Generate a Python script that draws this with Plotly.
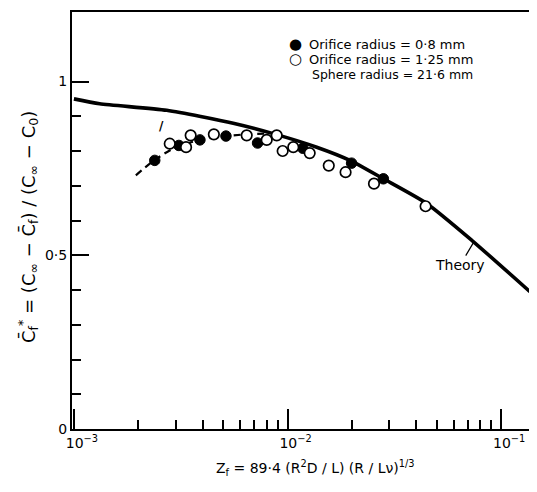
import plotly.graph_objects as go

# Theory curve
theory_x = [0.001, 0.00132, 0.00272, 0.00557, 0.00857, 0.0137, 0.0196, 0.0281, 0.0448, 0.0729, 0.1365]
theory_y = [0.950, 0.936, 0.917, 0.880, 0.850, 0.811, 0.773, 0.720, 0.649, 0.543, 0.395]

# Orifice radius 0.8 mm (filled)
filled_x = [0.00239, 0.00310, 0.00389, 0.00515, 0.00724, 0.0118, 0.01995, 0.0281]
filled_y = [0.773, 0.816, 0.832, 0.843, 0.823, 0.808, 0.765, 0.720]

# Orifice radius 1.25 mm (open)
open_x = [0.00281, 0.00335, 0.00352, 0.00452, 0.00644, 0.00799, 0.0089, 0.00949,
          0.01064, 0.0127, 0.0156, 0.0187, 0.0254, 0.0443]
open_y = [0.821, 0.811, 0.845, 0.848, 0.845, 0.832, 0.845, 0.800,
          0.811, 0.794, 0.758, 0.739, 0.706, 0.641]

# Dashed trend through the early data
dash_x = [0.00195, 0.0024, 0.0030, 0.0038, 0.0050, 0.0065, 0.0080]
dash_y = [0.730, 0.775, 0.810, 0.830, 0.842, 0.848, 0.850]

x_major = [0.001, 0.01, 0.1]
x_major_text = ["10<sup>−3</sup>", "10<sup>−2</sup>", "10<sup>−1</sup>"]
x_minor = [m * d for d in [0.001, 0.01, 0.1] for m in range(2, 10)]
y_major = [0, 0.5, 1]
y_major_text = ["0", "0·5", "1"]
y_minor = [0.1, 0.2, 0.3, 0.4, 0.6, 0.7, 0.8, 0.9]

FONT = "DejaVu Sans"

fig = go.Figure()
fig.add_trace(go.Scatter(x=theory_x, y=theory_y, mode="lines",
                         line=dict(color="black", width=3.6, shape="spline", smoothing=0.6),
                         showlegend=False, hoverinfo="skip"))
fig.add_trace(go.Scatter(x=dash_x, y=dash_y, mode="lines",
                         line=dict(color="black", width=2.2, dash="7px,5px", shape="spline"),
                         showlegend=False, hoverinfo="skip"))
fig.add_trace(go.Scatter(x=filled_x, y=filled_y, mode="markers",
                         marker=dict(symbol="circle", size=10.5, color="black",
                                     line=dict(color="black", width=1)),
                         showlegend=False))
fig.add_trace(go.Scatter(x=open_x, y=open_y, mode="markers",
                         marker=dict(symbol="circle", size=10.5, color="white",
                                     line=dict(color="black", width=1.7)),
                         showlegend=False))

# page body has an 8px margin: figure placed so the plot area spans x 72..537, y 12..429
fig.update_layout(
    width=529, height=484,
    margin=dict(l=64, r=0, t=4, b=63),
    paper_bgcolor="white", plot_bgcolor="white",
    font=dict(family=FONT, color="black", size=13),
    showlegend=False,
    xaxis=dict(type="log", range=[-3.009, -0.832],
               tickmode="array", tickvals=x_major, ticktext=x_major_text,
               ticks="inside", ticklen=20, tickwidth=1.5, tickcolor="black",
               ticklabelshift=8,
               minor=dict(tickmode="array", tickvals=x_minor, ticks="inside",
                          ticklen=9, tickwidth=1.5, tickcolor="black", showgrid=False),
               showline=True, linecolor="black", linewidth=2, mirror=True,
               showgrid=False, zeroline=False,
               tickfont=dict(size=14, family=FONT)),
    yaxis=dict(range=[0, 1.2],
               tickmode="array", tickvals=y_major, ticktext=y_major_text,
               ticks="inside", ticklen=17, tickwidth=1.5, tickcolor="black",
               minor=dict(tickmode="array", tickvals=y_minor, ticks="inside",
                          ticklen=9, tickwidth=1.5, tickcolor="black", showgrid=False),
               showline=True, linecolor="black", linewidth=2, mirror=False,
               showgrid=False, zeroline=False,
               tickfont=dict(size=14, family=FONT)),
)

annotations = [
    dict(xref="paper", yref="paper", x=0.480, y=0.923, text="●", showarrow=False,
         font=dict(size=15), xanchor="center", yanchor="middle", borderpad=0),
    dict(xref="paper", yref="paper", x=0.507, y=0.923, text="Orifice radius = 0·8 mm",
         showarrow=False, xanchor="left", yanchor="middle", borderpad=0),
    dict(xref="paper", yref="paper", x=0.480, y=0.887, text="○", showarrow=False,
         font=dict(size=15), xanchor="center", yanchor="middle", borderpad=0),
    dict(xref="paper", yref="paper", x=0.507, y=0.887, text="Orifice radius = 1·25 mm",
         showarrow=False, xanchor="left", yanchor="middle", borderpad=0),
    dict(xref="paper", yref="paper", x=0.867, y=0.851, text="Sphere radius = 21·6 mm",
         showarrow=False, xanchor="right", yanchor="middle", font=dict(size=12.5)),
    dict(x=-1.131, y=0.535, xref="x", yref="y", text="Theory", showarrow=True,
         arrowhead=0, arrowwidth=1.2, arrowcolor="black", ax=-13, ay=22, standoff=0,
         font=dict(size=14)),
    dict(x=-2.589, y=0.872, xref="x", yref="y", text="<b>/</b>", showarrow=False,
         font=dict(size=12)),
    dict(xref="paper", yref="paper", x=-0.0946, y=0.4845, textangle=-90,
         text="C̄<sub>f</sub><sup>*</sup> = (C<sub>∞</sub> − C̄<sub>f</sub>) / (C<sub>∞</sub> − C<sub>0</sub>)",
         showarrow=False, xanchor="center", yanchor="middle", font=dict(size=18)),
    dict(xref="paper", yref="paper", x=0.5226, y=-0.0935,
         text="Z<sub>f</sub> = 89·4 (R<sup>2</sup>D / L) (R / Lν)<sup>1/3</sup>",
         showarrow=False, xanchor="center", yanchor="middle", font=dict(size=14)),
]
fig.update_layout(annotations=annotations)

fig.write_html("out.html")
